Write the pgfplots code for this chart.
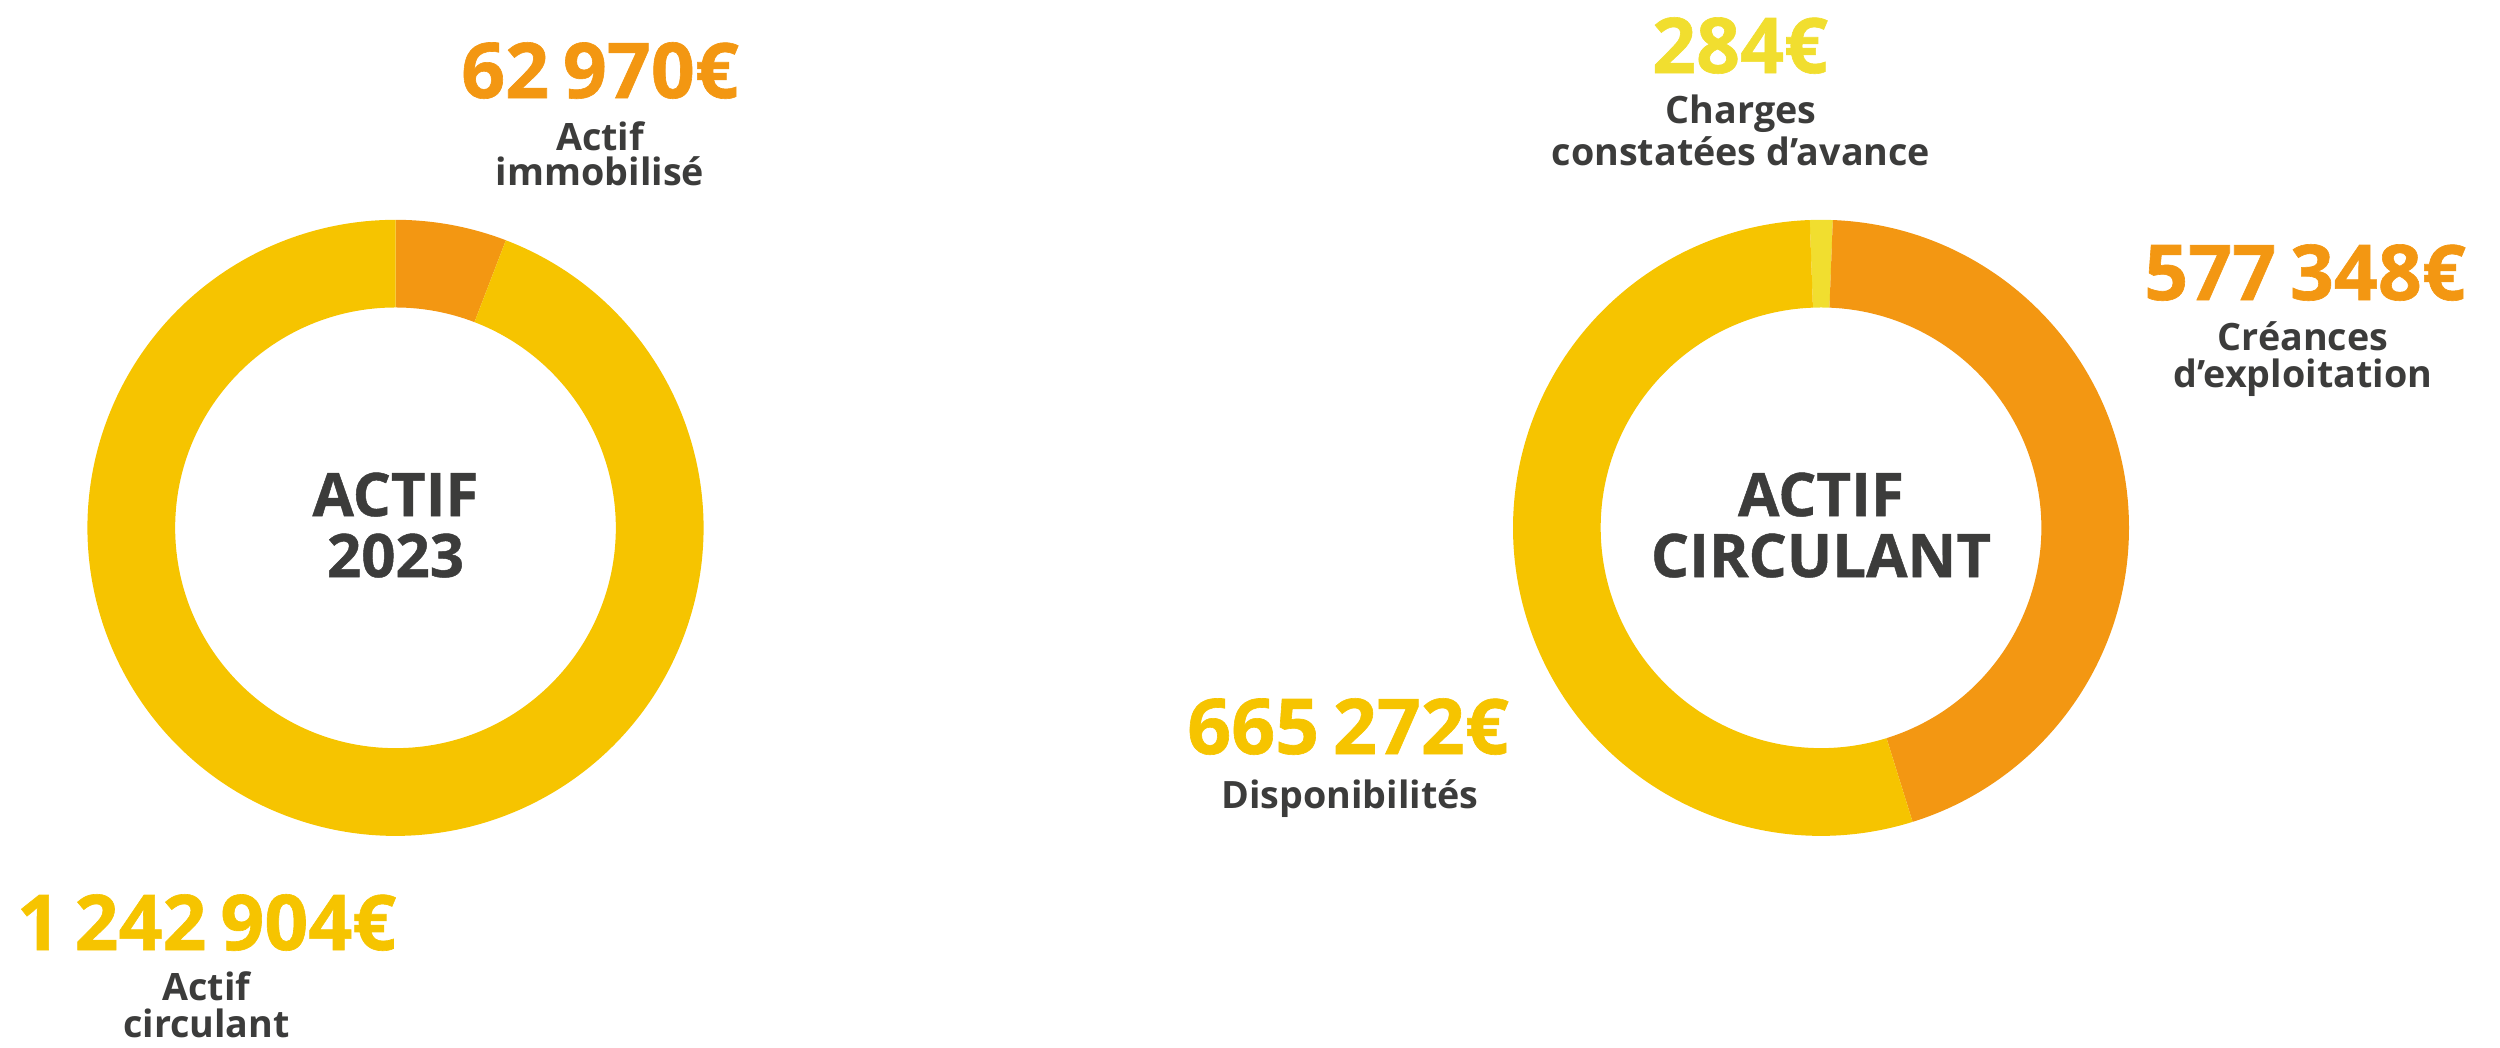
\documentclass[border=0pt]{standalone}
\usepackage{pgfplots}
\pgfplotsset{compat=1.18}
\usetikzlibrary{calc}
\usepackage{fontspec}
\setmainfont{Open Sans}
\newfontfamily\heavy{Open Sans}[BoldFeatures={FakeBold=0.8}]

\definecolor{orangeA}{HTML}{F39712}
\definecolor{jaune}{HTML}{F6C400}
\definecolor{jauneclair}{HTML}{F1DE2F}
\definecolor{texte}{HTML}{3C3C3B}

% 1 px of the reference = 0.3pt; outer radius 308px, inner 220px
\newcommand{\ring}[5]{%
  \fill[#5] (axis cs:#1,#2) ++(#3:92.4pt) arc[start angle=#3,end angle=#4,radius=92.4pt]
    -- ($(axis cs:#1,#2)+(#4:66.1pt)$) arc[start angle=#4,end angle=#3,radius=66.1pt] -- cycle;}

\newcommand{\valfont}{\fontsize{23.1}{23.1}\selectfont\heavy\bfseries}
\newcommand{\labfont}{\fontsize{11.3}{11.3}\selectfont\bfseries}
\newcommand{\titfont}{\fontsize{18}{18}\selectfont\heavy\bfseries}
\newcommand{\gap}{\hspace{0.18em}}

\begin{document}
\begin{tikzpicture}
\begin{axis}[
    width=750pt, height=314.1pt, scale only axis,
    xmin=0, xmax=2500, ymin=0, ymax=1047,
    y dir=reverse, hide axis, clip=false,
  ]
  \path (axis cs:0,0) rectangle (axis cs:2500,1047);

  % ACTIF 2023 : 62 970 / 1 242 904
  \ring{395.5}{527.8}{90}{69}{orangeA}
  \ring{395.5}{527.8}{69}{-270}{jaune}

  % ACTIF CIRCULANT : 284 / 577 348 / 665 272
  \ring{1821}{527.8}{92.1}{87.8}{jauneclair}
  \ring{1821}{527.8}{87.8}{-72.7}{orangeA}
  \ring{1821}{527.8}{-72.7}{-267.9}{jaune}

  \tikzset{every node/.style={anchor=base, inner sep=0pt}}

  \node[text=orangeA, font=\valfont] at (axis cs:600,98) {62\gap970€};
  \node[text=texte, font=\labfont] at (axis cs:600,150) {Actif};
  \node[text=texte, font=\labfont] at (axis cs:600,185) {immobilisé};

  \node[text=jaune, font=\valfont] at (axis cs:206.5,950) {1\gap242\gap904€};
  \node[text=texte, font=\labfont] at (axis cs:206.5,1000) {Actif};
  \node[text=texte, font=\labfont] at (axis cs:206.5,1037) {circulant};

  \node[text=texte, font=\titfont] at (axis cs:395.5,516) {ACTIF};
  \node[text=texte, font=\titfont] at (axis cs:395.5,577) {2023};

  \node[text=jauneclair, font=\valfont] at (axis cs:1740,73) {284€};
  \node[text=texte, font=\labfont] at (axis cs:1741,123) {Charges};
  \node[text=texte, font=\labfont] at (axis cs:1741,165) {constatées d’avance};

  \node[text=orangeA, font=\valfont] at (axis cs:2305,300) {577\gap348€};
  \node[text=texte, font=\labfont] at (axis cs:2303,350) {Créances};
  \node[text=texte, font=\labfont] at (axis cs:2303,387) {d’exploitation};

  \node[text=jaune, font=\valfont] at (axis cs:1348,754) {665\gap272€};
  \node[text=texte, font=\labfont] at (axis cs:1350,808) {Disponibilités};

  \node[text=texte, font=\titfont] at (axis cs:1821,516) {ACTIF};
  \node[text=texte, font=\titfont] at (axis cs:1821,577) {CIRCULANT};
\end{axis}
\end{tikzpicture}
\end{document}
